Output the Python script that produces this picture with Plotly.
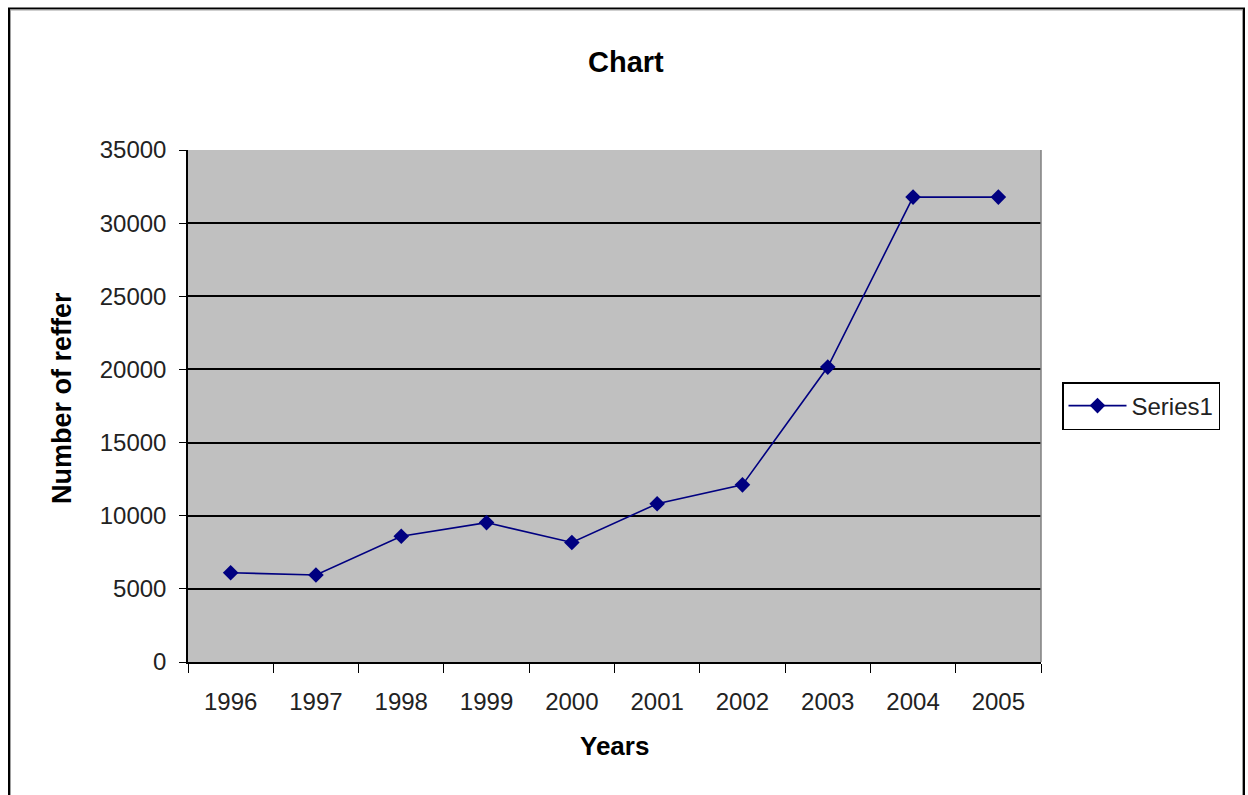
import plotly.graph_objects as go

years = ["1996", "1997", "1998", "1999", "2000", "2001", "2002", "2003", "2004", "2005"]
referrals = [6100, 5950, 8600, 9530, 8170, 10820, 12110, 20160, 31780, 31780]
y_ticks = [0, 5000, 10000, 15000, 20000, 25000, 30000, 35000]

W, H = 1248, 795
L, R, T, B = 188, 1041, 150, 662
pw, ph = R - L, B - T

def px(x):
    return (x - L) / pw

def py(y):
    return (B - y) / ph

FONT = "Liberation Sans, Arial, sans-serif"

fig = go.Figure()
fig.add_trace(go.Scatter(
    x=years, y=referrals, mode="lines+markers", name="Series1",
    line=dict(color="#000080", width=1.6),
    marker=dict(symbol="diamond", size=12, color="#000080"),
))

fig.update_layout(
    width=W, height=H,
    margin=dict(l=L, r=W - R, t=T, b=H - B, pad=0),
    paper_bgcolor="white", plot_bgcolor="#C0C0C0",
    font=dict(family=FONT, size=24, color="#222222"),
    showlegend=True,
    legend=dict(x=px(1062), y=py(382), xanchor="left", yanchor="top",
                bordercolor="black", borderwidth=1.5, bgcolor="white",
                itemwidth=58,
                font=dict(family=FONT, size=24, color="#222222")),
    xaxis=dict(type="category", range=[-0.5, 9.5], showgrid=False,
               showline=True, linecolor="black", linewidth=1.5,
               ticks="outside", tickson="boundaries", ticklen=9, tickcolor="black",
               tickfont=dict(family=FONT, size=24), ticklabelstandoff=17,
               zeroline=False),
    yaxis=dict(range=[0, 35000], tickvals=y_ticks, ticktext=[str(v) for v in y_ticks],
               showgrid=True, gridcolor="black", gridwidth=1.5,
               showline=True, linecolor="black", linewidth=1.5,
               ticks="outside", ticklen=7, tickcolor="black",
               tickfont=dict(family=FONT, size=24), ticklabelstandoff=8,
               zeroline=False),
    annotations=[
        dict(text="<b>Chart</b>", x=px(626), y=py(62), xref="paper", yref="paper",
             showarrow=False, font=dict(family=FONT, size=29, color="black"),
             xanchor="center", yanchor="middle"),
        dict(text="<b>Years</b>", x=px(614), y=py(746), xref="paper", yref="paper",
             showarrow=False, font=dict(family=FONT, size=26, color="black"),
             xanchor="center", yanchor="middle"),
        dict(text="<b>Number of reffer</b>", x=px(62), y=py(398), xref="paper", yref="paper",
             showarrow=False, font=dict(family=FONT, size=27, color="black"), textangle=-90,
             xanchor="center", yanchor="middle"),
    ],
    shapes=[
        dict(type="line", xref="paper", yref="paper", x0=1, x1=1, y0=0, y1=1,
             line=dict(color="#808080", width=1.5)),
        dict(type="rect", xref="paper", yref="paper",
             x0=px(9), x1=px(1244), y0=py(805), y1=py(8.5),
             line=dict(color="black", width=2), layer="above"),
        dict(type="rect", xref="paper", yref="paper",
             x0=px(10.5), x1=px(1242.5), y0=py(805), y1=py(10),
             line=dict(color="#A0A0A0", width=1), layer="above"),
    ],
)

fig.write_html("out.html")
